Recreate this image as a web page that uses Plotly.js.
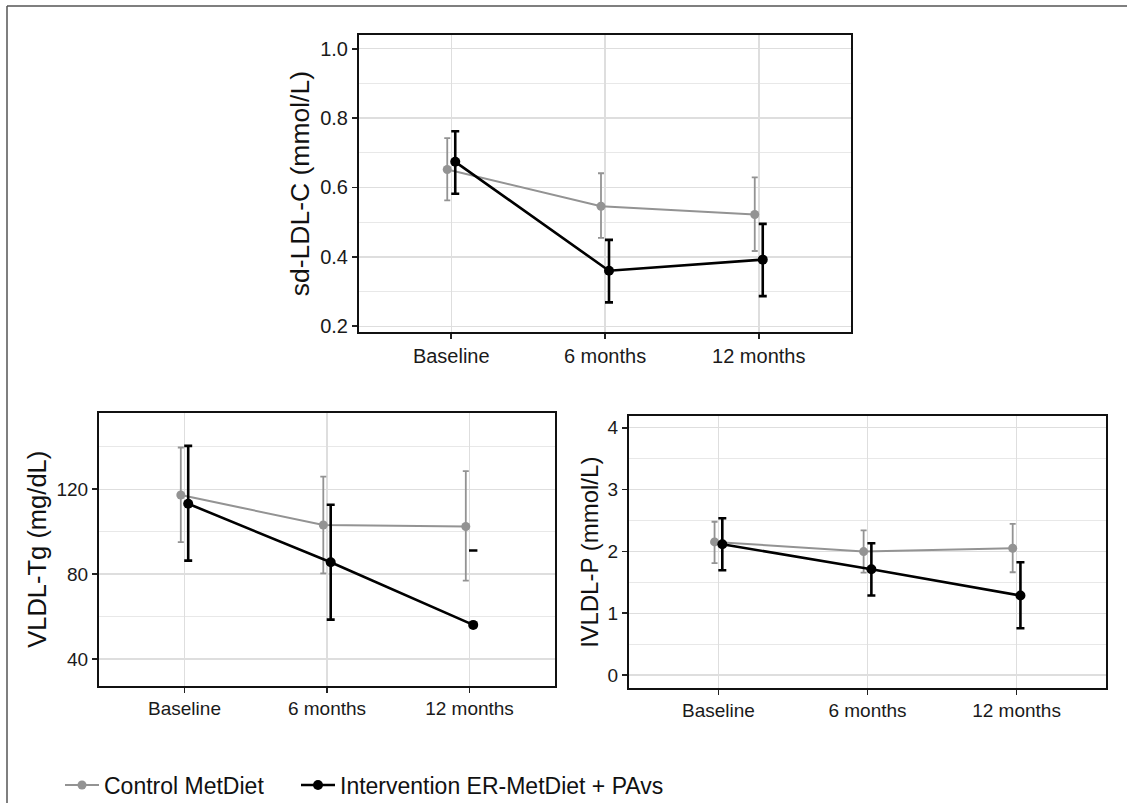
<!DOCTYPE html>
<html>
<head>
<meta charset="utf-8">
<script src="https://cdn.plot.ly/plotly-3.0.1.min.js"></script>
<style>html,body{margin:0;padding:0;background:#fff;}#chart{width:1127px;height:807px;}</style>
</head>
<body>
<div id="chart"></div>
<script>
// ---- data ----
const categories = ['Baseline', '6 months', '12 months'];

// sd-LDL-C (mmol/L)
const sdldlControl      = [0.652, 0.546, 0.522];
const sdldlControlUpper = [0.742, 0.641, 0.629];
const sdldlControlLower = [0.563, 0.455, 0.417];
const sdldlInterv       = [0.674, 0.360, 0.392];
const sdldlIntervUpper  = [0.762, 0.449, 0.495];
const sdldlIntervLower  = [0.582, 0.269, 0.287];

// VLDL-Tg (mg/dL)
const vldltgControl      = [117.3, 103.2, 102.5];
const vldltgControlUpper = [139.7, 126.0, 128.6];
const vldltgControlLower = [95.1, 80.4, 77.0];
const vldltgInterv       = [113.2, 85.6, 56.1];
const vldltgIntervUpper  = [140.5, 112.7, null];
const vldltgIntervLower  = [86.4, 58.6, null];
const vldltgStrayMark    = [null, null, 91.2];

// lVLDL-P (mmol/L)
const lvldlpControl      = [2.154, 1.998, 2.052];
const lvldlpControlUpper = [2.480, 2.342, 2.445];
const lvldlpControlLower = [1.810, 1.659, 1.664];
const lvldlpInterv       = [2.116, 1.712, 1.287];
const lvldlpIntervUpper  = [2.536, 2.132, 1.826];
const lvldlpIntervLower  = [1.696, 1.287, 0.759];

const seriesNames = ['Control MetDiet', 'Intervention ER-MetDiet + PAvs'];

// ---- styling / layout helpers ----
const W = 1127, H = 807;
const GRAY = '#939393', BLACK = '#000000';
const dodge = 0.026;
const xCtrl = categories.map((c, i) => i - dodge);
const xInt = categories.map((c, i) => i + dodge);
const up = (u, v) => u.map((x, i) => x == null ? NaN : x - v[i]);
const dn = (l, v) => l.map((x, i) => x == null ? NaN : v[i] - x);

function ctrlTrace(y, u, l, xa, ya, show) {
  return {
    x: xCtrl, y: y, xaxis: xa, yaxis: ya, type: 'scatter', mode: 'lines+markers',
    name: seriesNames[0], showlegend: show, legend: 'legend', legendgroup: 'c',
    line: {color: GRAY, width: 2}, marker: {color: GRAY, size: 9},
    error_y: {type: 'data', symmetric: false, array: up(u, y), arrayminus: dn(l, y),
              color: GRAY, thickness: 1.8, width: 3}
  };
}
function intTrace(y, u, l, xa, ya, show) {
  return {
    x: xInt, y: y, xaxis: xa, yaxis: ya, type: 'scatter', mode: 'lines+markers',
    name: seriesNames[1], showlegend: show, legend: 'legend2', legendgroup: 'i',
    line: {color: BLACK, width: 2.6}, marker: {color: BLACK, size: 10},
    error_y: {type: 'data', symmetric: false, array: up(u, y), arrayminus: dn(l, y),
              color: BLACK, thickness: 2.6, width: 4}
  };
}

const traces = [
  ctrlTrace(sdldlControl, sdldlControlUpper, sdldlControlLower, 'x', 'y', true),
  intTrace(sdldlInterv, sdldlIntervUpper, sdldlIntervLower, 'x', 'y', true),
  ctrlTrace(vldltgControl, vldltgControlUpper, vldltgControlLower, 'x2', 'y2', false),
  intTrace(vldltgInterv, vldltgIntervUpper, vldltgIntervLower, 'x2', 'y2', false),
  {x: xInt, y: vldltgStrayMark, xaxis: 'x2', yaxis: 'y2', type: 'scatter', mode: 'markers',
   showlegend: false, hoverinfo: 'skip',
   marker: {symbol: 'line-ew', size: 6, color: BLACK, line: {color: BLACK, width: 2.5}}},
  ctrlTrace(lvldlpControl, lvldlpControlUpper, lvldlpControlLower, 'x3', 'y3', false),
  intTrace(lvldlpInterv, lvldlpIntervUpper, lvldlpIntervLower, 'x3', 'y3', false)
];

const FONT = 'Liberation Sans, Arial, sans-serif';
const xd = (a, b) => [a / W, b / W];
const yd = (top, bottom) => [1 - bottom / H, 1 - top / H];

function xAxis(dom, anchor, size) {
  return {
    domain: dom, anchor: anchor, range: [-0.6, 2.6], tickvals: [0, 1, 2], ticktext: categories,
    showgrid: true, gridcolor: '#dedede', gridwidth: 1.5, zeroline: false,
    showline: true, mirror: true, linecolor: '#111', linewidth: 2,
    ticks: 'outside', ticklen: 5, tickwidth: 1.8, tickcolor: '#222',
    tickfont: {family: FONT, size: size, color: '#1a1a1a'}, automargin: false, fixedrange: true
  };
}
function yAxis(dom, anchor, range, dtick, minor, title, tsize, size, standoff, fmt) {
  return {
    domain: dom, anchor: anchor, range: range, dtick: dtick, tick0: 0, tickformat: fmt,
    showgrid: true, gridcolor: '#dedede', gridwidth: 1.5, zeroline: false,
    minor: {dtick: minor, tick0: 0, showgrid: true, gridcolor: '#e8e8e8', gridwidth: 1.2, ticks: ''},
    showline: true, mirror: true, linecolor: '#111', linewidth: 2,
    ticks: 'outside', ticklen: 5, tickwidth: 1.8, tickcolor: '#222',
    tickfont: {family: FONT, size: size, color: '#1a1a1a'},
    title: {text: title, font: {family: FONT, size: tsize, color: '#111'}, standoff: standoff},
    automargin: false, fixedrange: true
  };
}

const legendBase = {orientation: 'h', xanchor: 'left', y: 1 - 789 / H, yanchor: 'middle',
  font: {family: FONT, size: 23, color: '#111'}, bgcolor: 'rgba(0,0,0,0)', itemwidth: 34};

const layout = {
  width: W, height: H, margin: {l: 0, r: 0, t: 0, b: 0},
  paper_bgcolor: '#ffffff', plot_bgcolor: '#ffffff',
  font: {family: FONT, color: '#111'},
  showlegend: true,
  legend: Object.assign({}, legendBase, {x: 60 / W}),
  legend2: Object.assign({}, legendBase, {x: 296 / W}),
  xaxis: xAxis(xd(359, 851), 'y', 20),
  yaxis: yAxis(yd(35, 334), 'x', [0.1825, 1.04], 0.2, 0.1, 'sd-LDL-C (mmol/L)', 26.5, 20, 3, '.1f'),
  xaxis2: xAxis(xd(99, 555), 'y2', 19),
  yaxis2: yAxis(yd(415, 689), 'x2', [27.5, 156], 40, 20, 'VLDL-Tg (mg/dL)', 25.5, 19, 3, 'd'),
  xaxis3: xAxis(xd(629, 1106), 'y3', 19),
  yaxis3: yAxis(yd(418, 691), 'x3', [-0.2, 4.19], 1, 0.5, 'lVLDL-P (mmol/L)', 24, 19, 2, 'd'),
  shapes: [
    {type: 'line', xref: 'paper', yref: 'paper', x0: 7 / W, x1: 7 / W, y0: 0, y1: 1 - 6 / H,
     line: {color: '#555', width: 1.5}},
    {type: 'line', xref: 'paper', yref: 'paper', x0: 7 / W, x1: 1, y0: 1 - 6 / H, y1: 1 - 6 / H,
     line: {color: '#555', width: 1.5}}
  ]
};

Plotly.newPlot('chart', traces, layout, {displayModeBar: false, staticPlot: true});
</script>
</body>
</html>
